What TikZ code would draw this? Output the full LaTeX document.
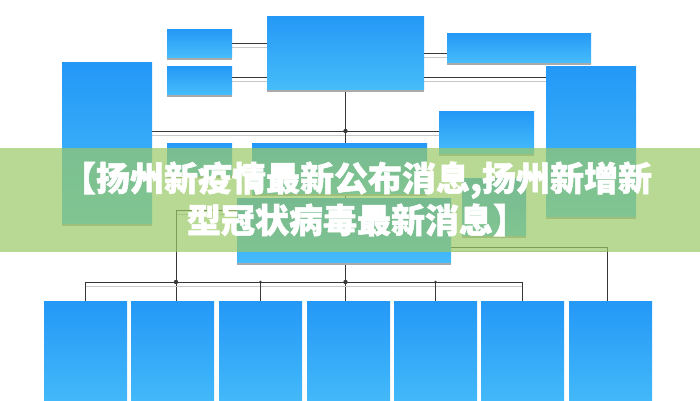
\documentclass[tikz,border=0pt]{standalone}
\usepackage{fontspec}
\newfontfamily\cjk[BoldFeatures={FakeBold=1.6}]{Noto Sans CJK SC}
\usetikzlibrary{shadows,backgrounds}
\definecolor{boxtop}{RGB}{36,152,246}
\definecolor{boxbot}{RGB}{70,188,250}
\definecolor{boxshadow}{RGB}{170,170,170}
\definecolor{linegray}{RGB}{55,55,55}
\definecolor{lineshadow}{RGB}{200,200,200}
\definecolor{band}{RGB}{154,201,102}

\begin{document}
\begin{tikzpicture}
[x=1pt,y=-1pt,%
  blk/.style={anchor=north west,inner sep=0pt,outer sep=0pt,
    top color=boxtop,bottom color=boxbot,
    drop shadow={shadow xshift=0pt,shadow yshift=-3pt,fill=boxshadow,opacity=1}},%
  link/.style={draw=linegray,line width=0.8pt,
    preaction={draw=lineshadow,line width=1pt,transform canvas={yshift=-4pt}}},%
  title/.style={text=white,anchor=base,inner sep=0pt,
    font=\cjk\bfseries\fontsize{34pt}{42pt}\selectfont}]
\useasboundingbox (0,0) rectangle (700,400);
% top row
\node[blk,minimum width=65pt,minimum height=28pt] (s1) at (167,29) {};
\node[blk,minimum width=65pt,minimum height=28pt] (s2) at (167,66) {};
\node[blk,minimum width=157pt,minimum height=73pt] (hub) at (267,16) {};
\node[blk,minimum width=144pt,minimum height=29pt] (r1) at (447,33) {};
% sides
\node[blk,minimum width=90pt,minimum height=161pt] (lt) at (62,62) {};
\node[blk,minimum width=90pt,minimum height=150pt] (rt) at (546,66) {};
\node[blk,minimum width=95pt,minimum height=42pt] (mr) at (439,111) {};
% middle
\node[blk,minimum width=65pt,minimum height=32pt] (ml) at (167,143) {};
\node[blk,minimum width=175pt,minimum height=50pt] (mc) at (252,143) {};
\node[blk,minimum width=64pt,minimum height=57pt] (rs) at (462,178) {};
\node[blk,minimum width=214pt,minimum height=64pt] (lm) at (237,198) {};
% bottom row
\foreach \x [count=\i] in {44,131,219,307,394,481,569}
  \node[blk,minimum width=83pt,minimum height=110pt] (b\i) at (\x,301) {};
\coordinate (bus) at (0,282);

\begin{scope}[on background layer]
\draw[link] (s1.east) -- (s1.east -| hub.west);
\draw[link] (s2.east |- 0,77) -- (hub.west |- 0,77);
\draw[link] (hub.east |- 0,53) -- (r1.west |- 0,53);
\draw[link] (hub.east |- 0,77) -- (rt.west |- 0,77);
\draw[link] (lt.east |- 0,131) -- (mr.west |- 0,131);
\draw[link] (hub.south) -- (hub.south |- b4.north);
\draw[link] (lm.west |- 0,210) -| ([xshift=3.5pt]b2.north);
\draw[link] (lm.east |- 0,247) -| ([xshift=-3.5pt]b7.north);
\draw[link] (b1.north |- bus) -- (b6.north |- bus);
\foreach \b in {b1,b3,b5,b6}
  \draw[link] (\b.north) -- (\b.north |- bus);
\end{scope}
\fill[linegray] (hub.south |- 0,131) circle (2.2pt)
  (hub.south |- bus) circle (2.2pt)
  ([xshift=3.5pt]b2.north |- bus) circle (2.2pt)
  (b3.north |- bus) circle (1.3pt)
  (b5.north |- bus) circle (1.3pt);

% caption band
\fill[band,opacity=0.7] (0,148) rectangle (700,252);
\node[title] (title1) at (357,191) {【扬州新疫情最新公布消息,扬州新增新};
\node[title] (title2) at (357,233) {型冠状病毒最新消息】};
\end{tikzpicture}
\end{document}
